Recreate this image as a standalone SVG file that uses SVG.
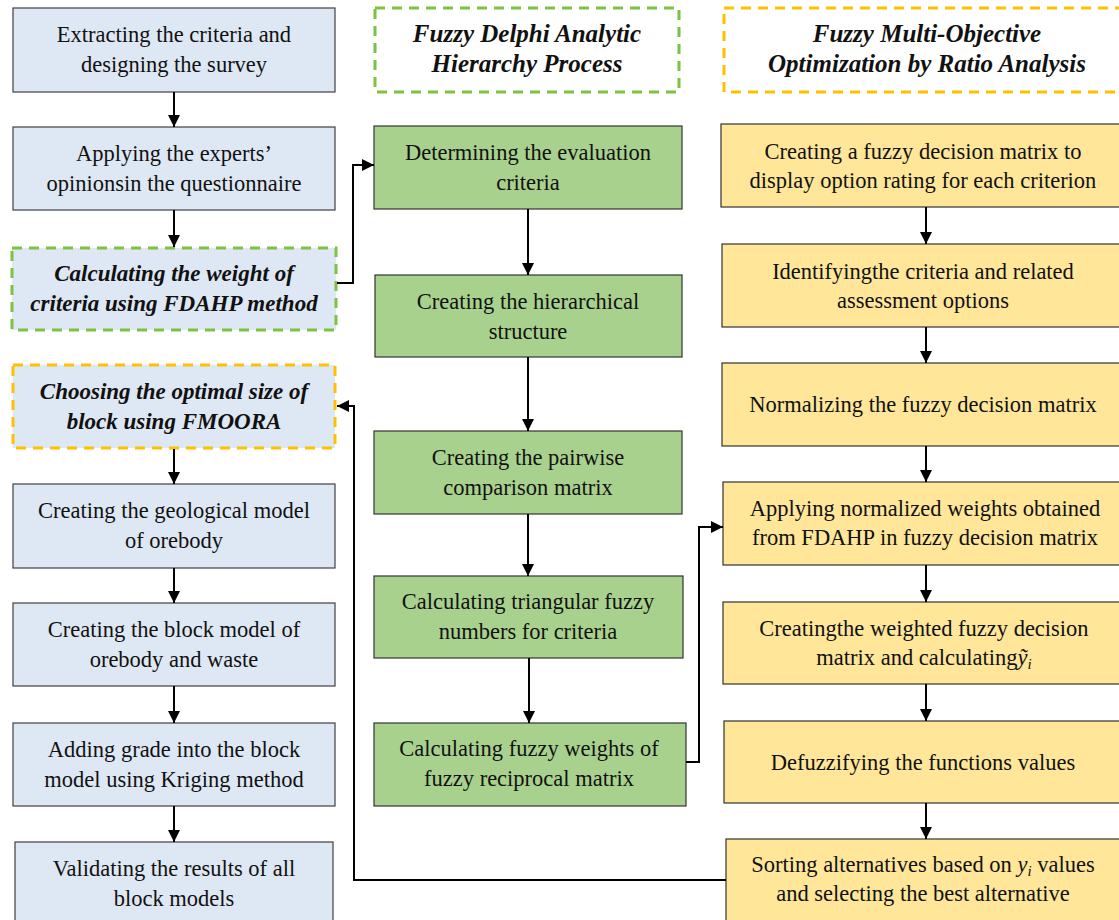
<svg xmlns="http://www.w3.org/2000/svg" width="1119" height="920" viewBox="0 0 1119 920">
<defs>
<marker id="ah" viewBox="0 0 12 12" refX="12" refY="6" markerWidth="12" markerHeight="12" markerUnits="userSpaceOnUse" orient="auto"><path d="M0,0 L12,6 L0,12 z" fill="#000"/></marker>
<style>
.b{fill:#DEE8F4;stroke:#404040;stroke-width:1.2}
.g{fill:#A9D18E;stroke:#333;stroke-width:1.2}
.y{fill:#FFE699;stroke:#333;stroke-width:1.2}
.dg{stroke:#7DC242;stroke-width:3;stroke-dasharray:10 7}
.dy{stroke:#FFC000;stroke-width:3;stroke-dasharray:10 7}
text{font-family:"Liberation Serif","Times New Roman",serif;font-size:22.5px;fill:#111;text-anchor:middle}
.h{font-weight:bold;font-style:italic;font-size:23px}
.hh{font-weight:bold;font-style:italic;font-size:25px}
.c{fill:none;stroke:#000;stroke-width:2;marker-end:url(#ah)}
</style>
</defs>
<g id="L1"><rect class="b" x="13" y="8" width="322" height="84"/><text x="174" y="42">Extracting the criteria and</text><text x="174" y="72">designing the survey</text></g>
<g id="L2"><rect class="b" x="13" y="127" width="322" height="83"/><text x="174" y="161">Applying the experts’</text><text x="174" y="191">opinionsin the questionnaire</text></g>
<g id="L3"><rect class="b dg" x="12" y="248" width="324" height="82"/><text class="h" x="174" y="281">Calculating the weight of</text><text class="h" x="174" y="311">criteria using FDAHP method</text></g>
<g id="L4"><rect class="b dy" x="13" y="365" width="322" height="83"/><text class="h" x="174" y="399">Choosing the optimal size of</text><text class="h" x="174" y="429">block using FMOORA</text></g>
<g id="L5"><rect class="b" x="13" y="484" width="322" height="84"/><text x="174" y="518">Creating the geological model</text><text x="174" y="548">of orebody</text></g>
<g id="L6"><rect class="b" x="13" y="603" width="322" height="83"/><text x="174" y="637">Creating the block model of</text><text x="174" y="667">orebody and waste</text></g>
<g id="L7"><rect class="b" x="13" y="723" width="322" height="83"/><text x="174" y="757">Adding grade into the block</text><text x="174" y="787">model using Kriging method</text></g>
<g id="L8"><rect class="b" x="15" y="842" width="318" height="90"/><text x="174" y="876">Validating the results of all</text><text x="174" y="906">block models</text></g>

<g id="MH"><rect x="375" y="8" width="304" height="84" fill="none" class="dg"/><text class="hh" x="527" y="42">Fuzzy Delphi Analytic</text><text class="hh" x="527" y="72">Hierarchy Process</text></g>
<g id="M1"><rect class="g" x="374" y="126" width="308" height="83"/><text x="528" y="160">Determining the evaluation</text><text x="528" y="190">criteria</text></g>
<g id="M2"><rect class="g" x="375" y="275" width="307" height="82"/><text x="528" y="309">Creating the hierarchical</text><text x="528" y="339">structure</text></g>
<g id="M3"><rect class="g" x="374" y="431" width="308" height="83"/><text x="528" y="465">Creating the pairwise</text><text x="528" y="495">comparison matrix</text></g>
<g id="M4"><rect class="g" x="374" y="576" width="309" height="82"/><text x="528" y="609">Calculating triangular fuzzy</text><text x="528" y="639">numbers for criteria</text></g>
<g id="M5"><rect class="g" x="374" y="723" width="312" height="83"/><text x="529" y="756">Calculating fuzzy weights of</text><text x="529" y="786">fuzzy reciprocal matrix</text></g>

<g id="RH"><rect x="724" y="8" width="400" height="84" fill="none" class="dy"/><text class="hh" x="927" y="42">Fuzzy Multi-Objective</text><text class="hh" x="927" y="72">Optimization by Ratio Analysis</text></g>
<g id="R1"><rect class="y" x="721" y="124" width="404" height="83"/><text x="923" y="159">Creating a fuzzy decision matrix to</text><text x="923" y="188">display option rating for each criterion</text></g>
<g id="R2"><rect class="y" x="722" y="244" width="403" height="83"/><text x="923" y="279">Identifyingthe criteria and related</text><text x="923" y="308">assessment options</text></g>
<g id="R3"><rect class="y" x="722" y="363" width="403" height="83"/><text x="923" y="412">Normalizing the fuzzy decision matrix</text></g>
<g id="R4"><rect class="y" x="723" y="482" width="402" height="83"/><text x="925" y="516">Applying normalized weights obtained</text><text x="925" y="545">from FDAHP in fuzzy decision matrix</text></g>
<g id="R5"><rect class="y" x="723" y="602" width="402" height="82"/><text x="924" y="636">Creatingthe weighted fuzzy decision</text><text x="924" y="665">matrix and calculating<tspan font-style="italic">ỹ</tspan><tspan font-style="italic" font-size="15" dy="4">i</tspan></text></g>
<g id="R6"><rect class="y" x="724" y="721" width="401" height="82"/><text x="923" y="770">Defuzzifying the functions values</text></g>
<g id="R7"><rect class="y" x="726" y="839" width="399" height="90"/><text x="923" y="872">Sorting alternatives based on <tspan font-style="italic">y</tspan><tspan font-style="italic" font-size="15" dy="4">i</tspan><tspan dy="-4"> values</tspan></text><text x="923" y="901">and selecting the best alternative</text></g>

<g id="connectors">
<path class="c" d="M174,92 V127"/>
<path class="c" d="M174,210 V247"/>
<path class="c" d="M174,449 V484"/>
<path class="c" d="M174,568 V603"/>
<path class="c" d="M174,686 V723"/>
<path class="c" d="M174,806 V842"/>
<path class="c" d="M528,209 V275"/>
<path class="c" d="M528,357 V431"/>
<path class="c" d="M528,514 V576"/>
<path class="c" d="M529,658 V723"/>
<path class="c" d="M926,207 V244"/>
<path class="c" d="M926,327 V363"/>
<path class="c" d="M926,446 V482"/>
<path class="c" d="M926,565 V602"/>
<path class="c" d="M926,684 V721"/>
<path class="c" d="M926,803 V839"/>
<path class="c" d="M337,283 H353 V165 H374"/>
<path class="c" d="M686,762 H699 V527 H723"/>
<path class="c" d="M726,880 H354 V406 H337"/>
</g>
</svg>
